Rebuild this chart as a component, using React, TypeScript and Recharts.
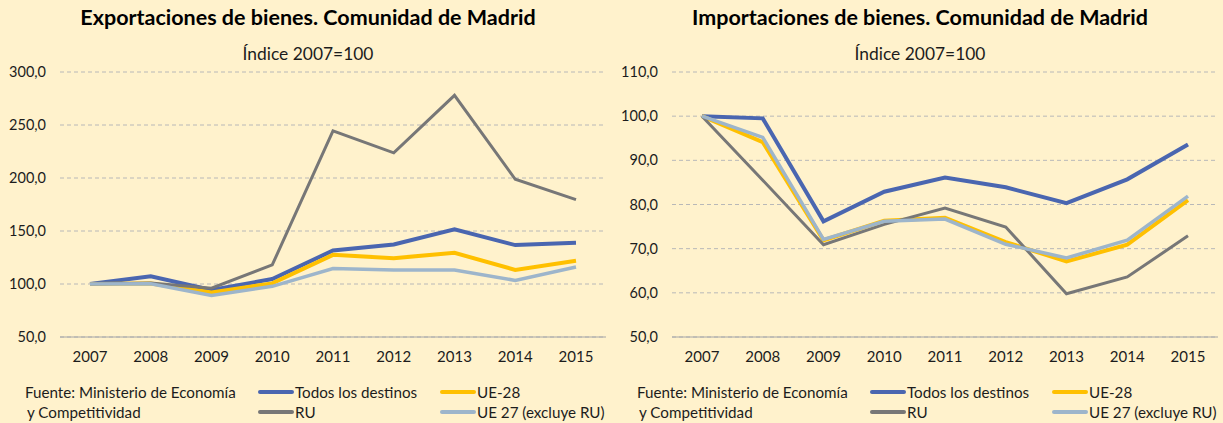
import React from "react"
import { LineChart, Line, CartesianGrid, XAxis, YAxis, Legend } from "recharts"

const YEARS = ["2007", "2008", "2009", "2010", "2011", "2012", "2013", "2014", "2015"]

const SERIES_NAMES = ["Todos los destinos", "UE-28", "RU", "UE 27 (excluye RU)"]

// Exportaciones, índice 2007=100
const EXP_TODOS = [100, 107.2, 94.3, 104.7, 131.6, 137.3, 151.6, 136.7, 138.9]
const EXP_UE28 = [100, 100.5, 92.0, 100.6, 127.5, 124.4, 129.4, 113.3, 122.0]
const EXP_RU = [100, 101.0, 96.0, 118.0, 244.5, 223.7, 278.0, 198.8, 179.6]
const EXP_UE27 = [100, 100.2, 89.2, 97.8, 114.6, 113.3, 113.3, 103.4, 116.0]
const EXP_TICKS = [50, 100, 150, 200, 250, 300]

// Importaciones, índice 2007=100
const IMP_TODOS = [100, 99.5, 76.2, 82.9, 86.1, 83.9, 80.3, 85.7, 93.6]
const IMP_UE28 = [100, 94.1, 71.9, 76.3, 77.0, 71.5, 67.1, 70.9, 81.0]
const IMP_RU = [100, 85.5, 70.9, 75.5, 79.2, 74.9, 59.8, 63.6, 72.9]
const IMP_UE27 = [100, 95.2, 72.1, 76.2, 76.7, 71.0, 67.9, 71.9, 81.9]
const IMP_TICKS = [50, 60, 70, 80, 90, 100, 110]

const COLORS = ["#4A66B0", "#FFC000", "#777777", "#9DB5CB"]
const WIDTHS = [4, 4, 3, 3.5]

const FONT = "Lato, 'Open Sans', sans-serif"
const TEXT = "#1c1c1c"
const BG = "#FFF2CC"

const fmt = (v: number) => v.toFixed(1).replace(".", ",")

// keep the Excel order of the series (Recharts sorts legend items by name)
const LegendBox = (props: any) => {
    const payload = [...(props.payload || [])].sort(
        (a: any, b: any) => SERIES_NAMES.indexOf(a.value) - SERIES_NAMES.indexOf(b.value)
    )
    return (
        <div style={{ position: "relative", width: 612, height: 42, fontFamily: FONT, fontSize: 15.2, color: TEXT, lineHeight: "20px" }}>
            <div style={{ position: "absolute", left: 25, top: 0, whiteSpace: "nowrap" }}>Fuente: Ministerio de Economía</div>
            <div style={{ position: "absolute", left: 27, top: 20, whiteSpace: "nowrap" }}>y Competitividad</div>
            {payload.map((p: any, i: number) => {
                const col = i % 2
                const row = Math.floor(i / 2)
                return (
                    <div key={p.value} style={{ position: "absolute", left: 258 + col * 182, top: row * 20, display: "flex", alignItems: "center", whiteSpace: "nowrap" }}>
                        <span style={{ display: "inline-block", width: 36, height: 4, background: p.color, borderRadius: 2 }} />
                        <span style={{ marginLeft: 1 }}>{p.value}</span>
                    </div>
                )
            })}
        </div>
    )
}

function Panel({ left, title, series, domain, ticks }: { left: number; title: string; series: number[][]; domain: [number, number]; ticks: number[] }) {
    const data = YEARS.map((year, i) => ({
        year,
        s0: series[0][i],
        s1: series[1][i],
        s2: series[2][i],
        s3: series[3][i],
    }))

    return (
        <div style={{ position: "absolute", left, top: 0, width: 612, height: 423 }}>
            <div style={{ position: "absolute", left: 0, width: 616, top: 4, textAlign: "center", fontFamily: FONT, fontWeight: 700, fontSize: 21.5, color: "#000", whiteSpace: "nowrap" }}>{title}</div>
            <div style={{ position: "absolute", left: 0, width: 616, top: 43, textAlign: "center", fontFamily: FONT, fontSize: 17.4, color: TEXT }}>Índice 2007=100</div>
            <LineChart width={612} height={423} data={data} margin={{ top: 72, right: 6, left: 0, bottom: 56 }}>
                <CartesianGrid horizontal={true} vertical={false} stroke="#B8B8B8" strokeDasharray="4 3" />
                <XAxis
                    dataKey="year"
                    padding={{ left: 30, right: 30 }}
                    axisLine={{ stroke: "#A6A6A6", strokeWidth: 1 }}
                    tickLine={false}
                    tickSize={0}
                    tickMargin={14}
                    height={30}
                    interval={0}
                    tick={{ fill: TEXT, fontSize: 15, fontFamily: FONT }}
                />
                <YAxis
                    type="number"
                    domain={domain}
                    ticks={ticks}
                    allowDataOverflow
                    axisLine={false}
                    tickLine={false}
                    tickSize={0}
                    tickMargin={14}
                    width={60}
                    tickFormatter={fmt}
                    tick={{ fill: TEXT, fontSize: 14.5, fontFamily: FONT }}
                />
                <Legend
                    layout="horizontal"
                    verticalAlign="middle"
                    align="center"
                    content={<LegendBox />}
                    wrapperStyle={{ position: "absolute", left: 0, top: 382, width: 612, height: 42 }}
                />
                {SERIES_NAMES.map((name, i) => (
                    <Line
                        key={name}
                        type="linear"
                        dataKey={`s${i}`}
                        name={name}
                        stroke={COLORS[i]}
                        strokeWidth={WIDTHS[i]}
                        dot={false}
                        activeDot={false}
                        isAnimationActive={false}
                    />
                ))}
            </LineChart>
        </div>
    )
}

export default function App() {
    return (
        <div style={{ position: "fixed", left: 0, top: 0, width: 1223, height: 423, background: BG, overflow: "hidden" }}>
            <Panel
                left={0}
                title="Exportaciones de bienes. Comunidad de Madrid"
                series={[EXP_TODOS, EXP_UE28, EXP_RU, EXP_UE27]}
                domain={[50, 300]}
                ticks={EXP_TICKS}
            />
            <Panel
                left={612}
                title="Importaciones de bienes. Comunidad de Madrid"
                series={[IMP_TODOS, IMP_UE28, IMP_RU, IMP_UE27]}
                domain={[50, 110]}
                ticks={IMP_TICKS}
            />
        </div>
    )
}
